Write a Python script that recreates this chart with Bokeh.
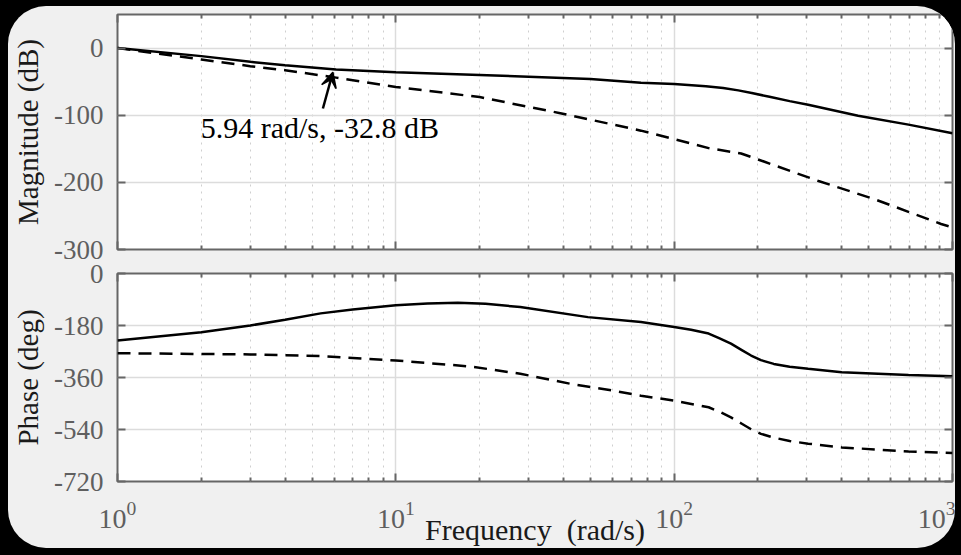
import numpy as np
from bokeh.plotting import figure
from bokeh.layouts import column
from bokeh.models import FixedTicker, LogAxis, LinearAxis, Arrow, VeeHead, Label, CustomJSTickFormatter
from bokeh.embed import file_html
from bokeh.resources import INLINE
from bokeh.core.properties import value

# ---------------- data ----------------
w_mag_solid = [1, 2, 3, 4, 6.1, 10, 20, 50, 76, 100, 130, 150, 170, 190, 220, 260, 303, 458, 695, 1000]
mag_solid = [0, -12, -20.5, -25.5, -32, -36, -40, -46, -51.6, -53.5, -57, -59.5, -63, -67, -72.5, -79, -84.5, -100.7, -114, -127]

w_mag_dash = [1, 2, 3, 4, 6.1, 8.1, 10, 20, 39, 76, 133, 174, 210, 330, 524, 910, 1000]
mag_dash = [0, -17, -27, -33, -44, -52, -58, -73, -97, -123, -149, -157, -169, -198, -225, -262, -267]

w_ph_solid = [1, 2, 3, 4, 5.37, 7, 10, 13, 16.7, 21, 28, 49, 76, 100, 115, 133, 145, 160, 175, 189, 205, 228, 260, 303, 400, 695, 1000]
ph_solid = [-232, -203, -180, -160, -138, -125, -110, -104, -101, -105, -116, -151, -168, -185, -195, -208, -224, -243, -265, -284, -300, -313, -323, -330, -342, -351, -356]

w_ph_dash = [1, 3, 5.37, 10, 18.6, 28, 42.5, 60, 76, 100, 133, 145, 160, 175, 189, 205, 228, 260, 303, 400, 695, 1000]
ph_dash = [-276, -280, -286, -301, -322, -347, -382, -405, -423, -440, -463, -478, -498, -520, -539, -555, -568, -580, -589, -602, -616, -621]

x_major = [1, 10, 100, 1000]
x_minor = [m * d for d in (1, 10, 100) for m in range(2, 10)]
mag_ticks = [0, -100, -200, -300]
ph_ticks = [0, -180, -360, -540, -720]

ann_text = "5.94 rad/s, -32.8 dB"
ann_point = (5.94, -36)
ann_tail = (5.47, -90)
ann_text_pos = (1.99, -118)

# ---------------- style ----------------
FONT = "Liberation Serif"
FRAME = "#666666"
TICKLBL = "#5f5f5f"
GRID = "#dcdcdc"
MINOR = "#cfcfcf"
OVERLAP = 14


def style_axis(ax, labels=True, size="26px"):
    ax.axis_line_color = None
    ax.major_tick_in = 8
    ax.major_tick_out = 0
    ax.minor_tick_in = 4
    ax.minor_tick_out = 0
    ax.major_tick_line_color = FRAME
    ax.major_tick_line_width = 2
    ax.minor_tick_line_color = FRAME
    ax.minor_tick_line_width = 2
    ax.major_label_text_font = FONT
    ax.major_label_text_color = TICKLBL
    if labels:
        ax.major_label_text_font_size = size
    else:
        ax.major_label_text_font_size = "1px"
        ax.major_label_text_alpha = 0
        ax.major_label_standoff = 0
    ax.axis_label_text_font = FONT
    ax.axis_label_text_font_style = "normal"
    ax.axis_label_text_color = "#1a1a1a"
    ax.axis_label_text_font_size = "29px"


def make_fig(height, yr, yticks, ylabel, xlabels, bt, bb, styles=None):
    p = figure(width=947, height=height, x_axis_type="log", x_range=(1, 1000), y_range=yr,
               output_backend="svg", toolbar_location=None,
               min_border_left=109, min_border_right=3, min_border_top=bt, min_border_bottom=bb,
               styles=styles or {})
    p.border_fill_alpha = 0
    p.background_fill_color = "white"
    p.outline_line_color = FRAME
    p.outline_line_width = 2
    xt = FixedTicker(ticks=x_major, minor_ticks=x_minor)
    yt = FixedTicker(ticks=yticks)
    xb = p.xaxis[0]
    yl = p.yaxis[0]
    xb.ticker = xt
    yl.ticker = yt
    p.xgrid.ticker = xt
    p.ygrid.ticker = yt
    style_axis(xb, labels=xlabels, size="28px")
    style_axis(yl, labels=True, size="27px")
    yl.formatter = CustomJSTickFormatter(code="return tick.toFixed(0);")
    yl.axis_label = ylabel
    yl.major_label_standoff = 14
    yl.axis_label_standoff = 7
    ax_top = LogAxis(ticker=xt)
    style_axis(ax_top, labels=False)
    p.add_layout(ax_top, "above")
    ax_right = LinearAxis(ticker=yt)
    style_axis(ax_right, labels=False)
    p.add_layout(ax_right, "right")
    p.xgrid.grid_line_color = GRID
    p.xgrid.grid_line_width = 1.5
    p.xgrid.minor_grid_line_color = MINOR
    p.xgrid.minor_grid_line_dash = "2 5"
    p.xgrid.minor_grid_line_width = 1
    p.ygrid.grid_line_color = GRID
    p.ygrid.grid_line_width = 1.5
    return p, xb


p1, _ = make_fig(256 + OVERLAP, (-300, 50), mag_ticks, "Magnitude (dB)", False, 8, 13 + OVERLAP)
p1.line(w_mag_solid, mag_solid, line_color="black", line_width=2.5)
p1.line(w_mag_dash, mag_dash, line_color="black", line_width=2.5, line_dash="13 8")
p1.add_layout(Arrow(end=VeeHead(size=15, fill_color="black", line_color="black", line_width=1.5),
                    x_start=ann_tail[0], y_start=ann_tail[1], x_end=ann_point[0], y_end=ann_point[1],
                    line_color="black", line_width=2.5))
p1.add_layout(Label(x=ann_text_pos[0], y=ann_text_pos[1], text=ann_text, text_font=FONT,
                    text_font_size="30px", text_color="black", text_baseline="middle"))

p2, xb2 = make_fig(286 + OVERLAP, (-720, 0), ph_ticks, "Phase (deg)", True, 11 + OVERLAP, 66,
                   styles={"margin-top": "-%dpx" % (2 * OVERLAP)})
p2.line(w_ph_solid, ph_solid, line_color="black", line_width=2.5)
p2.line(w_ph_dash, ph_dash, line_color="black", line_width=2.5, line_dash="13 8")
xb2.axis_label = "Frequency\u00a0 (rad/s)"
xb2.axis_label_text_font_size = "30px"
xb2.major_label_standoff = 20
xb2.axis_label_standoff = -18

panel = column(p1, p2, spacing=0,
               styles={"background-color": "#f0f0f0", "border-radius": "38px", "overflow": "hidden"})
page = column(panel, styles={"background-color": "#000000", "padding": "6px 6px 7px 8px"})

open("out.html", "w").write(file_html(page, INLINE))
